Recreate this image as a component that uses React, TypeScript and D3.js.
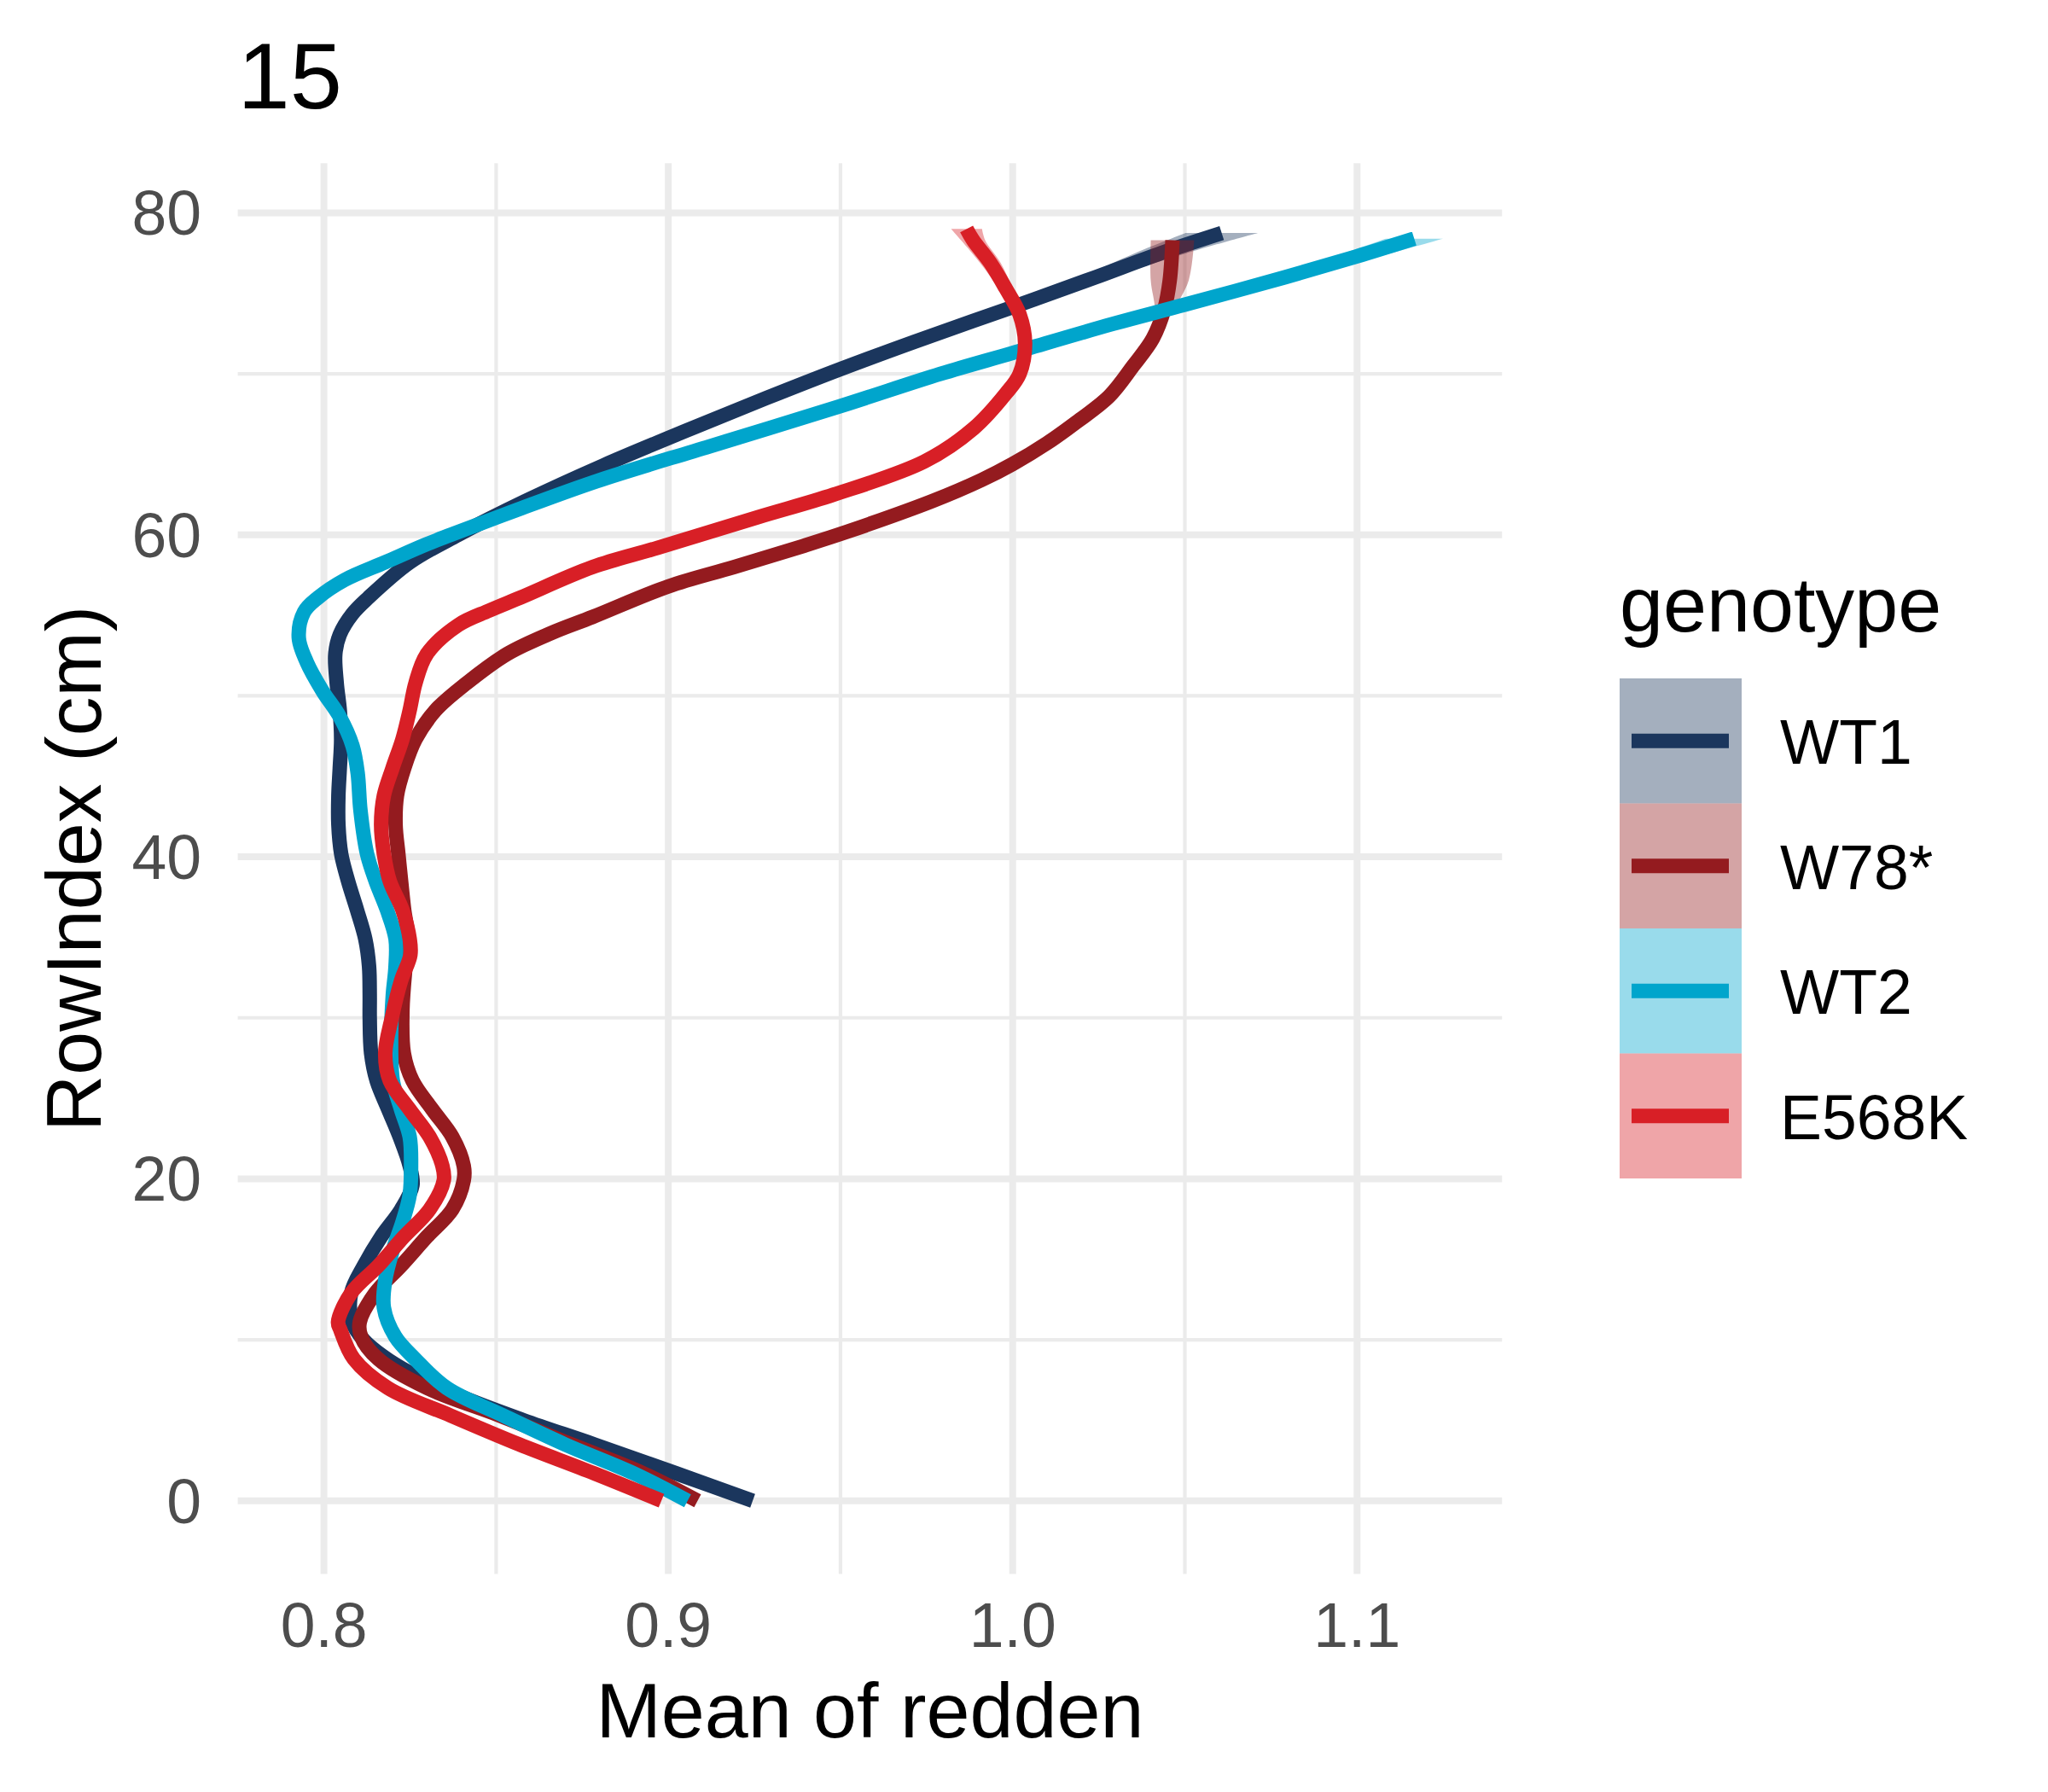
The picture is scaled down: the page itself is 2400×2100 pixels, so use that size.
// Smoothed redden profiles by genotype (plot "15"), drawn with d3 scales and shapes.
import * as d3 from 'd3';

const W = 2400;
const H = 2100;

const genotypes = ['WT1', 'W78*', 'WT2', 'E568K'];
const lineColors = ['#1B365D', '#941B1F', '#00A5CC', '#D81F26'];

const xTicks = [0.8, 0.9, 1.0, 1.1];
const xMinor = [0.85, 0.95, 1.05];
const yTicks = [0, 20, 40, 60, 80];
const yMinor = [10, 30, 50, 70];

// [RowIndex, mean of redden]
const wt1: [number, number][] = [
  [0, 0.9245], [1.7, 0.9023], [3.5, 0.8785], [5.0, 0.858], [6.5, 0.8395], [8.0, 0.8245],
  [9.0, 0.817], [10.0, 0.8115], [11.1, 0.8082], [12.9, 0.8079], [14.6, 0.8116], [16.4, 0.8166],
  [18.1, 0.8224], [19.6, 0.8257], [20.8, 0.8249], [22.6, 0.822], [24.3, 0.8187], [26.1, 0.8153],
  [27.8, 0.8137], [30, 0.8133], [31.4, 0.8133], [33.2, 0.8131], [34.9, 0.812], [36.7, 0.8096],
  [38.5, 0.807], [40.2, 0.805], [42.0, 0.8042], [43.8, 0.8042], [45.5, 0.8046], [47.3, 0.805],
  [49.1, 0.8046], [50.8, 0.8037], [52.6, 0.8033], [53.8, 0.8046], [55.1, 0.8083], [56.1, 0.8129],
  [58.3, 0.825], [60, 0.839], [62.1, 0.8585], [64.3, 0.881], [66.5, 0.9055], [68.5, 0.9285],
  [70.3, 0.95], [72, 0.9715], [74, 0.998], [76, 1.024], [77.5, 1.043], [78.75, 1.0607],
];

const w78: [number, number][] = [
  [0, 0.9085], [1.7, 0.8928], [3.5, 0.8719], [5.3, 0.851], [7.0, 0.83], [8.8, 0.8158],
  [10.2, 0.8108], [11.1, 0.8104], [12.9, 0.8149], [14.6, 0.8224], [16.4, 0.8299], [18.1, 0.8373],
  [19.9, 0.8406], [20.8, 0.8406], [22.6, 0.8373], [24.3, 0.8315], [26.1, 0.8257], [27.8, 0.8232],
  [30.5, 0.8228], [33.2, 0.8237], [34.9, 0.8245], [36.7, 0.8233], [38.5, 0.8224], [40.2, 0.8216],
  [42.0, 0.8208], [43.8, 0.8212], [45.5, 0.8233], [47.3, 0.8266], [49.1, 0.8324], [50.8, 0.8415],
  [52.6, 0.8532], [53.9, 0.866], [54.9, 0.878], [56.8, 0.9], [58, 0.919], [59.3, 0.939],
  [60.2, 0.952], [62.1, 0.9767], [63.4, 0.9909], [64.4, 1.0], [65.7, 1.01], [67, 1.0185],
  [68.6, 1.028], [70.5, 1.035], [72.2, 1.0407], [74, 1.044], [75.8, 1.0456], [78.3, 1.0464],
];

const wt2: [number, number][] = [
  [0, 0.9056], [1.7, 0.89], [3.5, 0.87], [5.3, 0.852], [7.0, 0.8357], [8.8, 0.8265],
  [10.2, 0.8207], [12.0, 0.8174], [13.7, 0.8178], [15.5, 0.8199], [17.3, 0.8228], [19.0, 0.8249],
  [20.8, 0.8253], [22.6, 0.8249], [24.3, 0.8224], [26.1, 0.82], [28.6, 0.8195], [31.4, 0.82],
  [33.2, 0.8208], [34.9, 0.8208], [36.7, 0.8183], [38.5, 0.815], [40.2, 0.8125], [42.9, 0.8106],
  [45.2, 0.8098], [46.9, 0.8083], [48.7, 0.8046], [50.3, 0.7996], [52.1, 0.795], [53.6, 0.7927],
  [55.2, 0.7942], [56.1, 0.7983], [57.2, 0.806], [58.3, 0.8178], [59.4, 0.8296], [60, 0.8368],
  [61.5, 0.8554], [63.35, 0.8794], [65.5, 0.912], [68, 0.95], [70, 0.979], [71.3, 1.0],
  [73.1, 1.029], [74.3, 1.05], [76, 1.079], [77.3, 1.1], [78.4, 1.1166],
];

const e568k: [number, number][] = [
  [0, 0.898], [1.7, 0.8785], [3.5, 0.8567], [5.3, 0.8367], [7.0, 0.8186], [8.8, 0.8087],
  [10.6, 0.8048], [11.1, 0.8041], [12.9, 0.8079], [14.6, 0.8158], [16.4, 0.8232], [18.1, 0.8307],
  [19.9, 0.8348], [20.8, 0.8344], [22.6, 0.8307], [24.3, 0.8249], [26.1, 0.8191], [27.8, 0.8178],
  [30, 0.8197], [32.3, 0.8224], [33.9, 0.8251], [34.9, 0.8249], [36.7, 0.8228], [38.5, 0.8191],
  [40.2, 0.8174], [42.0, 0.8166], [43.8, 0.8174], [45.5, 0.8199], [47.3, 0.8228], [49.1, 0.8249],
  [50.8, 0.8266], [52.6, 0.8299], [54.4, 0.839], [55.3, 0.848], [56.1, 0.857], [58, 0.878],
  [59.2, 0.897], [61.1, 0.926], [62.5, 0.948], [64.56, 0.9744], [66.6, 0.9886], [68.8, 0.9981],
  [70, 1.002], [71.9, 1.0036], [73.7, 1.002], [75.3, 0.998], [76.9, 0.9935], [78.3, 0.9885],
  [79.0, 0.9866],
];

// confidence band near the top end: [RowIndex, lower, upper]
const wt1Band: [number, number, number][] = [
  [72, 0.9705, 0.9725], [74, 0.9948, 1.0012], [76, 1.0195, 1.0285], [77.5, 1.0355, 1.0505],
  [78.75, 1.0502, 1.0712],
];
const w78Band: [number, number, number][] = [
  [72.2, 1.0403, 1.0411], [74, 1.0413, 1.0467], [75.8, 1.0401, 1.0511], [78.3, 1.0401, 1.0527],
];
const wt2Band: [number, number, number][] = [
  [74.3, 1.048, 1.052], [76, 1.075, 1.083], [77.3, 1.0935, 1.1065], [78.4, 1.1083, 1.1249],
];
const e568kBand: [number, number, number][] = [
  [73.7, 1.001, 1.003], [75.3, 0.996, 1.0], [76.9, 0.9905, 0.9965], [78.3, 0.985, 0.992],
  [79.0, 0.9821, 0.9911],
];

const seriesLines = [wt1, w78, wt2, e568k];
const seriesBands = [wt1Band, w78Band, wt2Band, e568kBand];

const FONT = '"Liberation Sans", Arial, Helvetica, sans-serif';
const BASE = 91.67;

const panel = { left: 278.6, right: 1760.2, top: 191.3, bottom: 1844.4 };

export default function App() {
  const x = d3.scaleLinear().domain([0.77497, 1.1421]).range([panel.left, panel.right]);
  const y = d3.scaleLinear().domain([-4.543, 83.085]).range([panel.bottom, panel.top]);

  const line = d3.line<[number, number]>()
    .x((d) => x(d[1]))
    .y((d) => y(d[0]))
    .curve(d3.curveCatmullRom.alpha(0.5));

  const band = d3.area<[number, number, number]>()
    .y((d) => y(d[0]))
    .x0((d) => x(d[1]))
    .x1((d) => x(d[2]))
    .curve(d3.curveCatmullRom.alpha(0.5));

  const fmt = d3.format('.1f');

  const keyLeft = 1898;
  const keyW = 143;
  const keyH = 146.5;
  const keyTop = 795;

  return (
    <svg
      width={W}
      height={H}
      viewBox={`0 0 ${W} ${H}`}
      style={{ position: 'absolute', left: 0, top: 0, background: '#fff' }}
      fontFamily={FONT}
    >
      <rect x={0} y={0} width={W} height={H} fill="#fff" />

      {/* grid */}
      {yMinor.map((t) => (
        <line key={`ym${t}`} x1={panel.left} x2={panel.right} y1={y(t)} y2={y(t)}
          stroke="#EBEBEB" strokeWidth={4.2} />
      ))}
      {xMinor.map((t) => (
        <line key={`xm${t}`} x1={x(t)} x2={x(t)} y1={panel.top} y2={panel.bottom}
          stroke="#EBEBEB" strokeWidth={4.2} />
      ))}
      {yTicks.map((t) => (
        <line key={`yM${t}`} x1={panel.left} x2={panel.right} y1={y(t)} y2={y(t)}
          stroke="#EBEBEB" strokeWidth={8} />
      ))}
      {xTicks.map((t) => (
        <line key={`xM${t}`} x1={x(t)} x2={x(t)} y1={panel.top} y2={panel.bottom}
          stroke="#EBEBEB" strokeWidth={8} />
      ))}

      {/* smooths: ribbon then line, per genotype */}
      {genotypes.map((g, i) => (
        <g key={g}>
          <path d={band(seriesBands[i]) ?? ''} fill={lineColors[i]} fillOpacity={0.4} />
          <path d={line(seriesLines[i]) ?? ''} fill="none" stroke={lineColors[i]}
            strokeWidth={17} strokeLinecap="butt" strokeLinejoin="round" />
        </g>
      ))}

      {/* axis tick labels */}
      {xTicks.map((t) => (
        <text key={`xl${t}`} x={x(t)} y={1930} textAnchor="middle" fontSize={BASE * 0.8} fill="#4D4D4D">
          {fmt(t)}
        </text>
      ))}
      {yTicks.map((t) => (
        <text key={`yl${t}`} x={236} y={y(t) + 26} textAnchor="end" fontSize={BASE * 0.8} fill="#4D4D4D">
          {t}
        </text>
      ))}

      {/* axis titles */}
      <text x={(panel.left + panel.right) / 2} y={2036} textAnchor="middle" fontSize={BASE} fill="#000">
        Mean of redden
      </text>
      <text transform={`translate(118, ${(panel.top + panel.bottom) / 2}) rotate(-90)`}
        textAnchor="middle" fontSize={BASE} fill="#000">
        RowIndex (cm)
      </text>

      {/* title */}
      <text x={panel.left} y={127} fontSize={BASE * 1.2} fill="#000">15</text>

      {/* legend */}
      <text x={keyLeft} y={740} fontSize={BASE} fill="#000">genotype</text>
      {genotypes.map((g, i) => {
        const top = keyTop + i * keyH;
        const cy = top + keyH / 2;
        return (
          <g key={`leg${g}`}>
            <rect x={keyLeft} y={top} width={keyW} height={keyH} fill={lineColors[i]} fillOpacity={0.4} />
            <line x1={keyLeft + 14} x2={keyLeft + keyW - 15} y1={cy} y2={cy}
              stroke={lineColors[i]} strokeWidth={17} />
            <text x={2086} y={cy + 27} fontSize={BASE * 0.8} fill="#000">{g}</text>
          </g>
        );
      })}
    </svg>
  );
}
